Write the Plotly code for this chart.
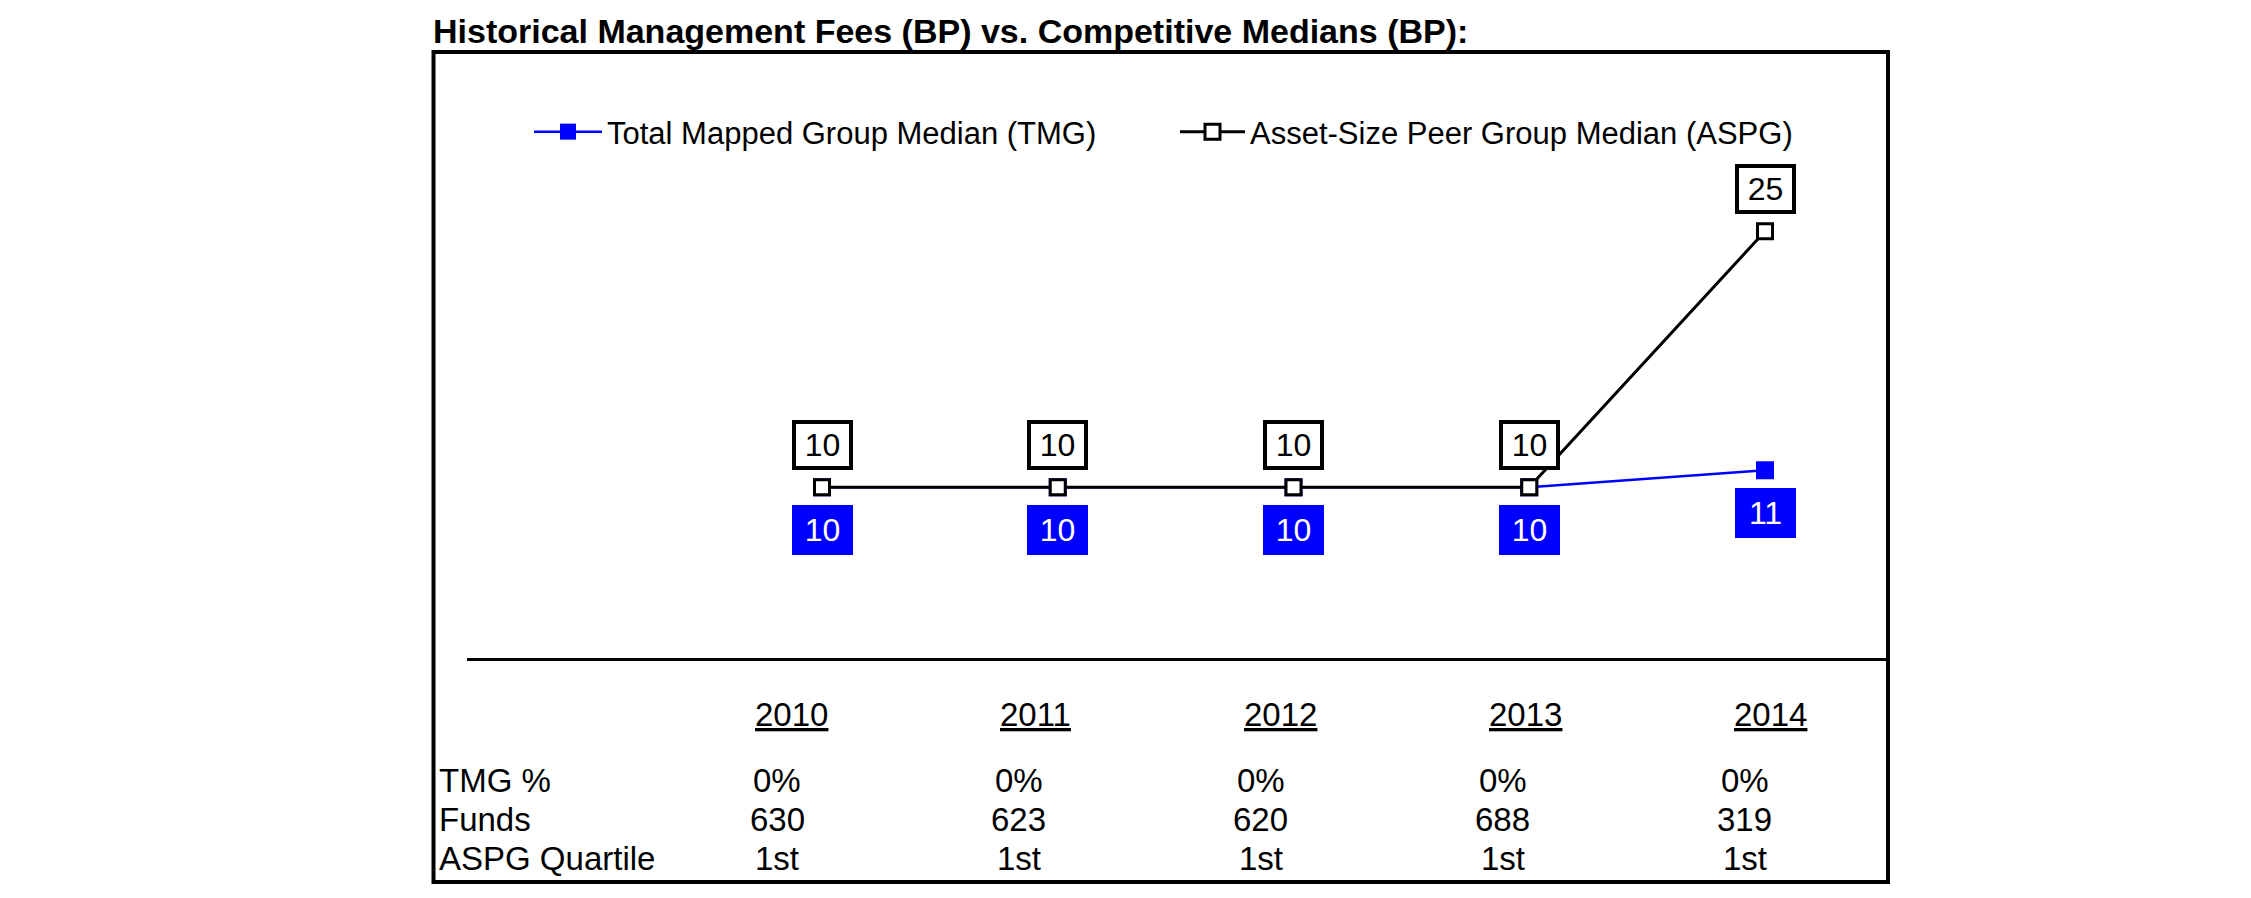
import plotly.graph_objects as go

# ---- data ----
years = [2010, 2011, 2012, 2013, 2014]
tmg_median = [10, 10, 10, 10, 11]
aspg_median = [10, 10, 10, 10, 25]
tmg_pct = ["0%", "0%", "0%", "0%", "0%"]
funds = ["630", "623", "620", "688", "319"]
aspg_quartile = ["1st", "1st", "1st", "1st", "1st"]
row_labels = ["TMG %", "Funds", "ASPG Quartile"]
title_text = "Historical Management Fees (BP) vs. Competitive Medians (BP):"
tmg_name = "Total Mapped Group Median (TMG)"
aspg_name = "Asset-Size Peer Group Median (ASPG)"

W, H = 2251, 898
FONT = "Liberation Sans, Arial, sans-serif"
BLUE = "#0000FF"

def px_x(p):
    return p / W

def px_y(p):
    return 1 - p / H

fig = go.Figure()

fig.add_trace(go.Scatter(
    x=years, y=tmg_median, name=tmg_name, mode="lines+markers",
    line=dict(color=BLUE, width=2.5),
    marker=dict(symbol="square", size=18, color=BLUE, line=dict(width=0)),
    legend="legend",
))
fig.add_trace(go.Scatter(
    x=years, y=aspg_median, name=aspg_name, mode="lines+markers",
    line=dict(color="#000000", width=3),
    marker=dict(symbol="square", size=15, color="white", line=dict(color="#000000", width=3)),
    legend="legend2",
))

annotations = []
# data labels
for yr, v in zip(years, aspg_median):
    annotations.append(dict(
        x=yr, y=v, xref="x", yref="y", text=str(v), showarrow=False,
        yshift=42, xanchor="center", yanchor="middle",
        font=dict(family=FONT, size=32, color="black"),
        bgcolor="white", bordercolor="black", borderwidth=4, borderpad=0,
        width=53, height=42,
    ))
for yr, v in zip(years, tmg_median):
    annotations.append(dict(
        x=yr, y=v, xref="x", yref="y", text=str(v), showarrow=False,
        yshift=-43, xanchor="center", yanchor="middle",
        font=dict(family=FONT, size=32, color="white"),
        bgcolor=BLUE, borderwidth=0, borderpad=0,
        width=61, height=50,
    ))

# title
annotations.append(dict(
    x=px_x(423), y=px_y(23), xref="paper", yref="paper", text="<b>" + title_text + "</b>",
    showarrow=False, xanchor="left", yanchor="middle",
    font=dict(family=FONT, size=34, color="black"),
))

# table header (years)
for yr in years:
    annotations.append(dict(
        x=yr, y=px_y(706), xref="x2", yref="paper", text="<u>" + str(yr) + "</u>",
        showarrow=False, xanchor="center", yanchor="middle",
        font=dict(family=FONT, size=33, color="black"),
    ))

# table rows
row_y = [px_y(772), px_y(811), px_y(850)]
rows = [tmg_pct, funds, aspg_quartile]
for lab, yy, vals in zip(row_labels, row_y, rows):
    annotations.append(dict(
        x=px_x(429), y=yy, xref="paper", yref="paper", text=lab,
        showarrow=False, xanchor="left", yanchor="middle",
        font=dict(family=FONT, size=33, color="black"),
    ))
    for yr, v in zip(years, vals):
        annotations.append(dict(
            x=yr, y=yy, xref="x3", yref="paper", text=v,
            showarrow=False, xanchor="center", yanchor="middle",
            font=dict(family=FONT, size=33, color="black"),
        ))

shapes = [dict(
    type="rect", xref="paper", yref="paper",
    x0=px_x(425.5), x1=px_x(1880), y0=px_y(874), y1=px_y(44),
    line=dict(color="black", width=4), fillcolor="rgba(0,0,0,0)", layer="above",
)]

dom = [px_x(459), px_x(1880)]
y0 = years[0]

fig.update_layout(
    width=W, height=H,
    margin=dict(l=0, r=0, t=0, b=0),
    paper_bgcolor="white", plot_bgcolor="white",
    font=dict(family=FONT, color="black"),
    showlegend=True,
    legend=dict(
        x=px_x(521), y=px_y(124), xanchor="left", yanchor="middle",
        orientation="h", itemwidth=68, bgcolor="rgba(0,0,0,0)",
        font=dict(family=FONT, size=31, color="black"),
    ),
    legend2=dict(
        x=px_x(1167), y=px_y(124), xanchor="left", yanchor="middle",
        orientation="h", itemwidth=65, bgcolor="rgba(0,0,0,0)",
        font=dict(family=FONT, size=31, color="black"),
    ),
    xaxis=dict(
        domain=dom, type="linear", range=[y0 - 1.5058, y0 + 4.5217],
        showline=True, linecolor="black", linewidth=2.5,
        showticklabels=False, ticks="", showgrid=False, zeroline=False,
    ),
    yaxis=dict(
        domain=[px_y(650), px_y(138)], range=[0, 30],
        visible=False, showgrid=False, zeroline=False,
    ),
    xaxis2=dict(
        domain=dom, type="linear", range=[y0 - 1.3238, y0 + 4.4821],
        anchor="y", overlaying="x", visible=False,
    ),
    xaxis3=dict(
        domain=dom, type="linear", range=[y0 - 1.281, y0 + 4.591],
        anchor="y", overlaying="x", visible=False,
    ),
    annotations=annotations,
    shapes=shapes,
)

fig.write_html("out.html")
